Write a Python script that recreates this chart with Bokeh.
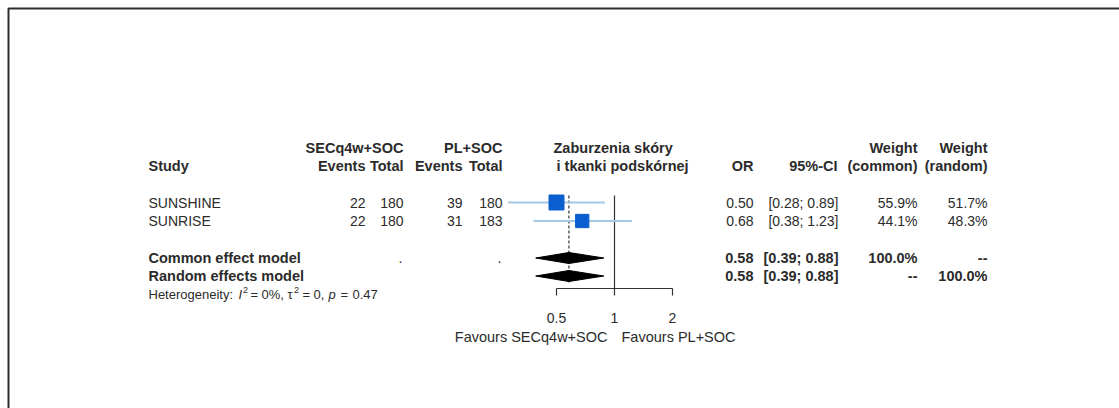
from bokeh.plotting import figure
from bokeh.models import (Range1d, LogScale, BoxAnnotation, ColumnDataSource)
from bokeh.core.properties import value
from bokeh.embed import file_html
from bokeh.resources import INLINE

# ---- data -------------------------------------------------------------
studies = ["SUNSHINE", "SUNRISE"]
events_sec = [22, 22]
total_sec = [180, 180]
events_pl = [39, 31]
total_pl = [180, 183]
odds_ratio = [0.50, 0.68]
ci_low = [0.28, 0.38]
ci_high = [0.89, 1.23]
weight_common = [55.9, 44.1]
weight_random = [51.7, 48.3]

pooled_models = ["Common effect model", "Random effects model"]
pooled_or = [0.58, 0.58]
pooled_low = [0.39, 0.39]
pooled_high = [0.88, 0.88]
pooled_w_common = ["100.0%", "--"]
pooled_w_random = ["--", "100.0%"]

het_i2 = "0%"
het_tau2 = "0"
het_p = "0.47"

axis_ticks = [0.5, 1, 2]
label_left = "Favours SECq4w+SOC"
label_right = "Favours PL+SOC"
outcome_title = ["Zaburzenia skóry", "i tkanki podskórnej"]

# ---- layout constants ------------------------------------------------
W, H = 1119, 408
REF_PX, PX_PER_DOUBLING = 614, 58   # where OR = 1 sits, pixels per doubling

FONT = value("Liberation Sans")
FS, FSB = "14px", "14.5px"
TXT = "#2b2b2b"

y_head1, y_head2 = 147, 165
y_rows = [202, 220.5]
y_pooled = [257.5, 275.5]
y_het = 294
y_axis, tick_len = 288, 7
y_ticklab, y_favours = 317, 336

x_study = 148
x_ev1, x_tot1, x_ev2, x_tot2 = 365, 403, 462, 502
x_or, x_ci, x_wc, x_wr = 753, 838, 917, 987

p = figure(width=W, height=H, output_backend="svg", toolbar_location=None,
           x_range=Range1d(0, W), y_range=Range1d(H, 0),
           x_axis_type=None, y_axis_type=None,
           min_border_left=0, min_border_right=0, min_border_top=0,
           min_border_bottom=0)
p.outline_line_color = None
p.background_fill_color = "white"
p.border_fill_color = "white"

# log scale for the odds-ratio panel
p.extra_x_ranges = {"or": Range1d(start=2 ** (-REF_PX / PX_PER_DOUBLING),
                                  end=2 ** ((W - REF_PX) / PX_PER_DOUBLING))}
p.extra_x_scales = {"or": LogScale()}

# page frame (left and top edges)
p.add_layout(BoxAnnotation(left=8, right=W + 200, top=8, bottom=H + 200,
                           fill_alpha=0, line_color="#2e2e2e", line_alpha=1,
                           line_width=2))


def put_text(xs, ys, texts, align="left", bold=False, size=None,
             style=None, xr="default"):
    src = ColumnDataSource(dict(x=xs, y=ys, t=texts))
    p.text(x="x", y="y", text="t", source=src, text_font=FONT,
           text_font_size=size or (FSB if bold else FS),
           text_align=align, text_baseline="middle", text_color=TXT,
           text_font_style=style or ("bold" if bold else "normal"),
           x_range_name=xr)


# ---- column headers ---------------------------------------------------
put_text([x_tot1, x_tot2], [y_head1] * 2, ["SECq4w+SOC", "PL+SOC"], "right", True)
put_text([553], [y_head1], [outcome_title[0]], "left", True)
put_text([556], [y_head2], [outcome_title[1]], "left", True)
put_text([x_wc, x_wr], [y_head1] * 2, ["Weight", "Weight"], "right", True)
put_text([x_study], [y_head2], ["Study"], "left", True)
put_text([x_ev1, x_tot1, x_ev2, x_tot2], [y_head2] * 4,
         ["Events", "Total", "Events", "Total"], "right", True)
put_text([x_or, x_ci - 1, x_wc, x_wr], [y_head2] * 4,
         ["OR", "95%-CI", "(common)", "(random)"], "right", True)

# ---- study rows -------------------------------------------------------
put_text([x_study] * len(studies), y_rows, studies)
for xc, vals in [(x_ev1, events_sec), (x_tot1, total_sec),
                 (x_ev2, events_pl), (x_tot2, total_pl)]:
    put_text([xc] * len(vals), y_rows, [str(v) for v in vals], "right")
put_text([x_or] * 2, y_rows, [f"{v:.2f}" for v in odds_ratio], "right")
put_text([x_ci] * 2, y_rows,
         [f"[{lo:.2f}; {hi:.2f}]" for lo, hi in zip(ci_low, ci_high)], "right")
put_text([x_wc] * 2, y_rows, [f"{w:.1f}%" for w in weight_common], "right")
put_text([x_wr] * 2, y_rows, [f"{w:.1f}%" for w in weight_random], "right")

# ---- pooled rows ------------------------------------------------------
put_text([x_study] * 2, y_pooled, pooled_models, "left", True)
put_text([x_tot1 - 3, x_tot2 - 3], [y_pooled[0]] * 2, [".", "."], "center")
put_text([x_or] * 2, y_pooled, [f"{v:.2f}" for v in pooled_or], "right", True)
put_text([x_ci] * 2, y_pooled,
         [f"[{lo:.2f}; {hi:.2f}]" for lo, hi in zip(pooled_low, pooled_high)],
         "right", True)
put_text([x_wc] * 2, y_pooled, pooled_w_common, "right", True)
put_text([x_wr] * 2, y_pooled, pooled_w_random, "right", True)

# ---- forest panel -----------------------------------------------------
# reference line at OR = 1 and dashed line at the pooled estimate
p.segment(x0=[1], y0=[195], x1=[1], y1=[y_axis], x_range_name="or",
          line_color="#333333", line_width=1.2)
p.segment(x0=[pooled_or[1]], y0=[195], x1=[pooled_or[1]], y1=[282],
          x_range_name="or", line_color="#333333", line_width=1.2,
          line_dash="3 2")

# study confidence intervals and weighted squares
p.segment(x0=ci_low, y0=y_rows, x1=ci_high, y1=y_rows, x_range_name="or",
          line_color="#a3c8e3", line_width=2)
sq_size = [2.0 * w ** 0.5 for w in weight_common]
p.scatter(x=odds_ratio, y=y_rows, size=sq_size, marker="square",
          x_range_name="or", fill_color="#0a5ecf", line_color="#0a5ecf")

# pooled diamonds
dia_xs = [[lo, est, hi, est] for lo, est, hi in zip(pooled_low, pooled_or, pooled_high)]
dia_ys = [[y, y - 5.5, y, y + 5.5] for y in y_pooled]
p.patches(xs=dia_xs, ys=dia_ys, x_range_name="or",
          fill_color="black", line_color="black", line_width=1)

# odds-ratio axis: line, ticks and tick labels on the log scale
p.segment(x0=[min(axis_ticks)], y0=[y_axis], x1=[max(axis_ticks)], y1=[y_axis],
          x_range_name="or", line_color="#333333", line_width=1.2)
p.segment(x0=axis_ticks, y0=[y_axis] * len(axis_ticks), x1=axis_ticks,
          y1=[y_axis + tick_len] * len(axis_ticks), x_range_name="or",
          line_color="#333333", line_width=1.2)
put_text(axis_ticks, [y_ticklab] * len(axis_ticks),
         [f"{t:g}" for t in axis_ticks], "center", xr="or")

# direction labels under the axis
put_text([607], [y_favours], [label_left], "right", size="14.5px")
put_text([621], [y_favours], [label_right], "left", size="14.5px")

# heterogeneity statistics (plotmath-style spacing around "=")
HFS, SUP = "13px", "9px"
het_parts = [
    (148, y_het, "Heterogeneity:", HFS, "normal"),
    (238, y_het, "I", HFS, "italic"),
    (242.5, y_het - 5, "2", SUP, "normal"),
    (250, y_het, "=", HFS, "normal"),
    (261, y_het, f"{het_i2},", HFS, "normal"),
    (287, y_het, "\u03c4", HFS, "normal"),
    (293.5, y_het - 5, "2", SUP, "normal"),
    (302, y_het, "=", HFS, "normal"),
    (313, y_het, f"{het_tau2},", HFS, "normal"),
    (328, y_het, "p", HFS, "italic"),
    (340, y_het, "=", HFS, "normal"),
    (352, y_het, het_p, HFS, "normal"),
]
for x, y, txt, fs, style in het_parts:
    put_text([x], [y], [txt], "left", size=fs, style=style)

open("out.html", "w").write(file_html(p, INLINE))
